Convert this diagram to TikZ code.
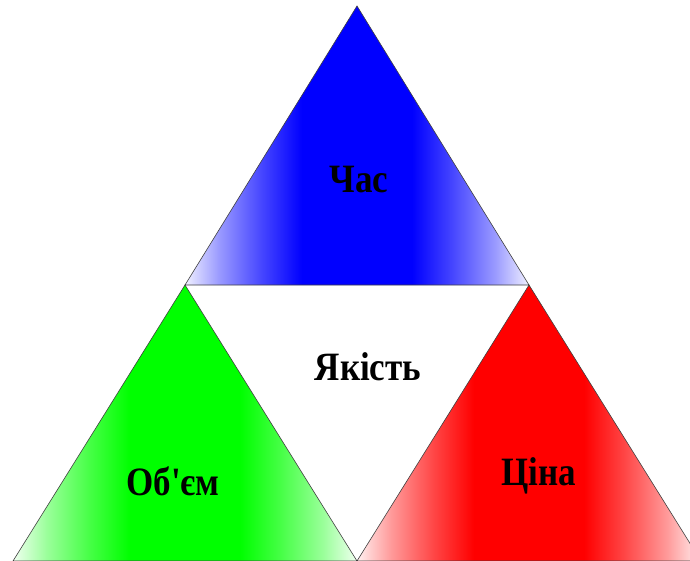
\documentclass[tikz,border=0pt]{standalone}
\usepackage{fontspec}
\setmainfont{Liberation Serif}

\pgfdeclarehorizontalshading{chasfade}{100bp}{color(0bp)=(white); color(25bp)=(blue!6); color(30bp)=(blue!40); color(36bp)=(blue!72); color(42bp)=(blue); color(58bp)=(blue); color(64bp)=(blue!72); color(70bp)=(blue!40); color(75bp)=(blue!6); color(100bp)=(white)}
\pgfdeclarehorizontalshading{obiemfade}{100bp}{color(0bp)=(white); color(25bp)=(green!6); color(30bp)=(green!40); color(36bp)=(green!72); color(42bp)=(green); color(58bp)=(green); color(64bp)=(green!72); color(70bp)=(green!40); color(75bp)=(green!6); color(100bp)=(white)}
\pgfdeclarehorizontalshading{tsinafade}{100bp}{color(0bp)=(white); color(25bp)=(red!6); color(30bp)=(red!40); color(36bp)=(red!72); color(42bp)=(red); color(58bp)=(red); color(64bp)=(red!72); color(70bp)=(red!40); color(75bp)=(red!6); color(100bp)=(white)}

\tikzset{
  side/.style={draw=black!75, line width=0.6pt},
  word/.style={font=\bfseries\fontsize{35}{35}\selectfont, inner sep=0pt, yscale=1.15}
}

\begin{document}
\begin{tikzpicture}[x=1pt,y=-1pt]
\useasboundingbox (0,0) rectangle (690,561);
\coordinate (top) at (357,6);
\coordinate (ul) at (185,285);
\coordinate (ur) at (529,285);
\coordinate (bl) at (13,561);
\coordinate (bm) at (357,561);
\coordinate (br) at (701,561);
% three coloured triangles
\shade[shading=chasfade] (top) -- (ur) -- (ul) -- cycle;
\shade[shading=obiemfade] (ul) -- (bm) -- (bl) -- cycle;
\shade[shading=tsinafade] (ur) -- (br) -- (bm) -- cycle;
\draw[side] (top) -- (ur) -- (ul) -- cycle;
\draw[side] (ul) -- (bm) -- (bl) -- cycle;
\draw[side] (ur) -- (br) -- (bm) -- cycle;
% labels
\node[word] (chas) at (359,180) {Час};
\node[word] (yakist) at (368,367) {Якість};
\node[word] (obiem) at (173,481) {Об\textquotesingle єм};
\node[word] (tsina) at (539,476) {Ціна};
\end{tikzpicture}
\end{document}
